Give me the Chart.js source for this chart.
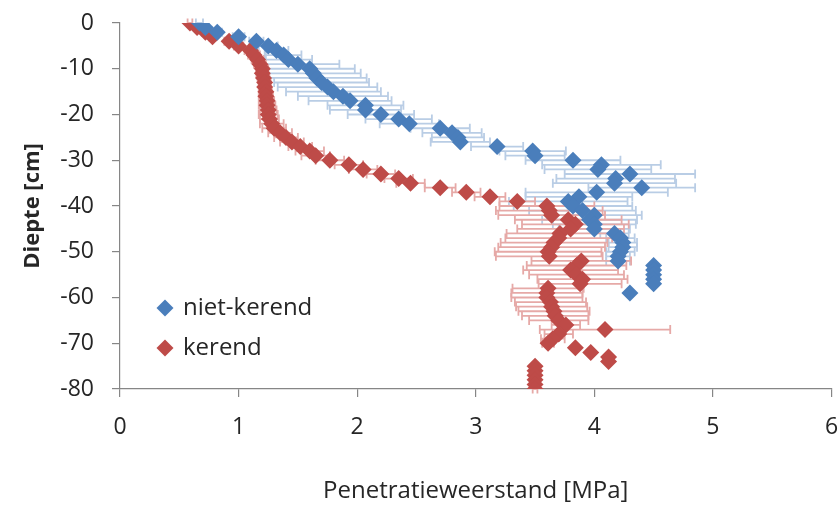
<!DOCTYPE html>
<html>
<head>
<meta charset="utf-8">
<script src="https://cdn.jsdelivr.net/npm/chart.js@4/dist/chart.umd.min.js"></script>
<style>
html,body{margin:0;padding:0;background:#fff;}
#wrap{width:840px;height:506px;}
</style>
</head>
<body>
<div id="wrap"><canvas id="c" width="840" height="506"></canvas></div>
<script>
// ---- data ----
const seriesNames = ["niet-kerend", "kerend"];
const xTicks = [0, 1, 2, 3, 4, 5, 6];
const yTicks = [0, -10, -20, -30, -40, -50, -60, -70, -80];

const nietDepth = [0,-1,-2,-3,-4,-5,-6,-7,-8,-9,-10,-11,-12,-13,-14,-15,-16,-17,-18,-19,-20,-21,-22,-23,-24,-25,-26,-27,-28,-29,-30,-31,-32,-33,-34,-35,-36,-37,-38,-39,-40,-41,-42,-43,-44,-45,-46,-47,-48,-49,-50,-51,-52,-53,-54,-55,-56,-57,-59];
const nietValue = [0.67,0.72,0.82,1.00,1.15,1.25,1.32,1.38,1.42,1.50,1.60,1.63,1.66,1.70,1.75,1.80,1.88,1.94,2.07,2.07,2.20,2.35,2.44,2.70,2.80,2.85,2.87,3.18,3.48,3.50,3.82,4.06,4.03,4.30,4.18,4.17,4.40,4.02,3.87,3.78,3.82,3.90,4.00,3.96,4.00,4.00,4.17,4.22,4.24,4.24,4.22,4.20,4.20,4.50,4.50,4.50,4.50,4.50,4.30];
const nietError = [0.03,0.03,0.04,0.05,0.06,0.08,0.10,0.15,0.20,0.35,0.38,0.40,0.42,0.40,0.42,0.40,0.38,0.35,0.32,0.30,0.28,0.28,0.25,0.25,0.25,0.22,0.25,0.22,0.28,0.25,0.40,0.50,0.45,0.55,0.50,0.52,0.45,0.60,0.45,0.50,0.50,0.45,0.40,0.40,0.35,0.30,0.12,0.12,0.12,0.12,0.12,0.10,0.10,0.02,0.02,0.02,0.02,0.02,0.02];

const kerendDepth = [0,-1,-2,-3,-4,-5,-6,-7,-8,-9,-10,-11,-12,-13,-14,-15,-16,-17,-18,-19,-20,-21,-22,-23,-24,-25,-26,-27,-28,-29,-30,-31,-32,-33,-34,-35,-36,-37,-38,-39,-40,-41,-42,-43,-44,-45,-46,-47,-48,-49,-50,-51,-52,-53,-54,-55,-56,-57,-58,-59,-60,-61,-62,-63,-64,-65,-66,-67,-68,-69,-70,-71,-72,-73,-74,-75,-76,-77,-78,-79,-80];
const kerendValue = [0.59,0.65,0.72,0.78,0.92,1.00,1.10,1.13,1.16,1.18,1.20,1.20,1.21,1.22,1.22,1.23,1.23,1.24,1.24,1.25,1.25,1.26,1.28,1.30,1.35,1.40,1.45,1.52,1.60,1.65,1.77,1.93,2.05,2.20,2.35,2.45,2.70,2.92,3.12,3.35,3.60,3.62,3.64,3.78,3.84,3.80,3.71,3.70,3.66,3.64,3.61,3.62,3.89,3.85,3.80,3.85,3.90,3.88,3.61,3.60,3.60,3.63,3.64,3.66,3.67,3.70,3.76,4.09,3.70,3.65,3.61,3.84,3.97,4.12,4.12,3.50,3.50,3.50,3.50,3.50,3.50];
const kerendError = [0.02,0.02,0.03,0.03,0.04,0.04,0.05,0.05,0.05,0.05,0.05,0.05,0.05,0.05,0.05,0.05,0.06,0.06,0.07,0.07,0.08,0.08,0.10,0.10,0.10,0.10,0.10,0.10,0.12,0.12,0.12,0.12,0.12,0.12,0.12,0.12,0.13,0.12,0.13,0.15,0.40,0.45,0.45,0.45,0.45,0.45,0.45,0.45,0.45,0.45,0.45,0.45,0.42,0.42,0.40,0.40,0.38,0.35,0.30,0.30,0.30,0.30,0.30,0.30,0.28,0.25,0.12,0.55,0.12,0.10,0.05,0.02,0.02,0.02,0.02,0.02,0.02,0.02,0.02,0.02,0.02];

const markerColors = ["#4A7EBB", "#BE4B48"];
const barColors = ["#B9CDE5", "#E6A9A7"];
const FONT = "'Open Sans', Lato, sans-serif";

function toPoints(d, v) { return d.map((y, i) => ({ x: v[i], y: y })); }

const datasets = [
  { label: seriesNames[0], data: toPoints(nietDepth, nietValue), errors: nietError,
    pointStyle: 'rectRot', pointRadius: 8.5, pointHoverRadius: 8.5,
    backgroundColor: markerColors[0], borderColor: markerColors[0], borderWidth: 0, showLine: false, errColor: barColors[0] },
  { label: seriesNames[1], data: toPoints(kerendDepth, kerendValue), errors: kerendError,
    pointStyle: 'rectRot', pointRadius: 8.5, pointHoverRadius: 8.5,
    backgroundColor: markerColors[1], borderColor: markerColors[1], borderWidth: 0, showLine: false, errColor: barColors[1] }
];

const errorBarPlugin = {
  id: 'errorBars',
  beforeDatasetsDraw(chart) {
    const ctx = chart.ctx;
    const xs = chart.scales.x, ys = chart.scales.y;
    ctx.save();
    ctx.lineWidth = 1.8;
    chart.data.datasets.forEach(ds => {
      ctx.strokeStyle = ds.errColor;
      ds.data.forEach((p, i) => {
        const e = ds.errors[i];
        const y = ys.getPixelForValue(p.y);
        const x1 = xs.getPixelForValue(p.x - e);
        const x2 = xs.getPixelForValue(p.x + e);
        ctx.beginPath();
        ctx.moveTo(x1, y); ctx.lineTo(x2, y);
        ctx.moveTo(x1, y - 4.5); ctx.lineTo(x1, y + 4.5);
        ctx.moveTo(x2, y - 4.5); ctx.lineTo(x2, y + 4.5);
        ctx.stroke();
      });
    });
    ctx.restore();
  }
};

const legendPlugin = {
  id: 'insideLegend',
  afterDraw(chart) {
    const ctx = chart.ctx;
    const rows = [308, 348];
    ctx.save();
    chart.data.datasets.forEach((ds, i) => {
      const cx = 165, cy = rows[i], r = 8.5;
      ctx.fillStyle = ds.backgroundColor;
      ctx.beginPath();
      ctx.moveTo(cx, cy - r); ctx.lineTo(cx + r, cy); ctx.lineTo(cx, cy + r); ctx.lineTo(cx - r, cy);
      ctx.closePath(); ctx.fill();
      ctx.fillStyle = '#262626';
      ctx.font = "24px " + FONT;
      ctx.textBaseline = 'middle';
      ctx.textAlign = 'left';
      ctx.fillText(ds.label, 183, cy);
    });
    ctx.restore();
  }
};

new Chart(document.getElementById('c'), {
  type: 'scatter',
  data: { datasets },
  options: {
    responsive: false,
    animation: false,
    events: [],
    layout: { padding: { top: 23, right: 6, left: 0, bottom: 0 } },
    plugins: { legend: { display: false }, tooltip: { enabled: false } },
    scales: {
      x: {
        type: 'linear', min: 0, max: 6,
        afterFit(s) { s.height = 117; s.paddingRight = 0; s.paddingLeft = 0; },
        afterBuildTicks(s) { s.ticks = xTicks.map(v => ({ value: v })); },
        border: { color: '#868686', width: 1.2 },
        grid: { drawOnChartArea: false, drawTicks: true, tickLength: 8, color: '#868686', lineWidth: 1.2 },
        ticks: { padding: 17, color: '#262626', font: { family: FONT, size: 23 } },
        title: { display: true, text: 'Penetratieweerstand [MPa]', color: '#262626', font: { family: FONT, size: 24 }, padding: { top: 0, bottom: 0 } }
      },
      y: {
        type: 'linear', min: -80, max: 0,
        afterFit(s) { s.width = 120; s.paddingTop = 0; s.paddingBottom = 0; },
        afterBuildTicks(s) { s.ticks = yTicks.map(v => ({ value: v })); },
        border: { color: '#868686', width: 1.2 },
        grid: { drawOnChartArea: false, drawTicks: true, tickLength: 8, color: '#868686', lineWidth: 1.2 },
        ticks: { padding: 18, color: '#262626', font: { family: FONT, size: 23 } },
        title: { display: true, text: 'Diepte [cm]', color: '#262626', font: { family: FONT, size: 22, weight: 'bold' }, padding: { top: 20, bottom: 0 } }
      }
    }
  },
  plugins: [errorBarPlugin, legendPlugin]
});
</script>
</body>
</html>
